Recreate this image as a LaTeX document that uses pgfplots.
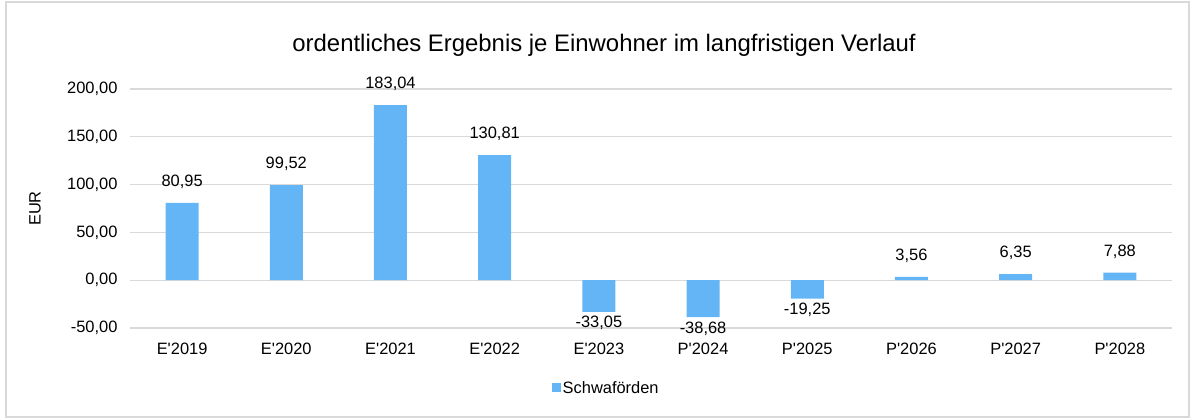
\documentclass[border=0pt]{standalone}
\usepackage{pgfplots}
\pgfplotsset{compat=1.18}
\usepackage{fontspec}
\setmainfont{Liberation Sans}
\definecolor{barblue}{RGB}{99,181,245}
\definecolor{gridgray}{RGB}{217,217,217}
\newcommand{\q}{\textquotesingle}
\begin{document}
\begin{tikzpicture}[x=1bp,y=1bp]
% full image frame: axis SW corner at image (130,328); image 1195x419
\path[use as bounding box] (-130,-91) rectangle (1065,328);
\draw[gridgray,line width=1.2bp] (-124,-89) rectangle (1059,326);
\begin{axis}[
  at={(0,0)}, anchor=south west,
  scale only axis, width=1042bp, height=239bp,
  xmin=-0.5, xmax=9.5, ymin=-50, ymax=200,
  ytick={-50,0,50,100,150,200},
  xtick={0,...,9},
  xticklabels={E\q2019,E\q2020,E\q2021,E\q2022,E\q2023,P\q2024,P\q2025,P\q2026,P\q2027,P\q2028},
  axis line style={draw=none},
  major tick length=0pt,
  ymajorgrids, grid style={gridgray,line width=1.2bp},
  /pgf/number format/.cd, fixed, fixed zerofill, precision=2, use comma, 1000 sep={}, assume math mode=true,
  /pgfplots/.cd,
  ticklabel style={font=\fontsize{16.5}{18}\selectfont},
  yticklabel style={xshift=-9bp},
  xticklabel style={yshift=-11bp},
  ylabel={EUR}, ylabel style={font=\fontsize{16.5}{18}\selectfont, at={(-0.0912,0.5)}, anchor=center},
  ybar, bar width=33bp, bar shift=0pt,
  legend style={at={(0.457,-0.251)}, anchor=center, draw=none, font=\fontsize{16.5}{18}\selectfont},
  nodes near coords, point meta=explicit symbolic,
  every node near coord/.append style={font=\fontsize{16.5}{18}\selectfont},
  clip=false,
]
\addplot[fill=barblue, draw=none, bar shift=0pt, nodes near coords style={anchor=south, yshift=11bp},
  legend image code/.code={\fill[barblue] (0bp,-4.5bp) rectangle (9bp,4.5bp);}] coordinates {
  (0,80.95) [80,95]
  (1,99.52) [99,52]
  (2,183.04) [183,04]
  (3,130.81) [130,81]
  (7,3.56) [3,56]
  (8,6.35) [6,35]
  (9,7.88) [7,88]
};
\addlegendentry{Schwaförden}
\addplot[fill=barblue, draw=none, bar shift=0pt, forget plot, nodes near coords style={anchor=north, yshift=-1bp}] coordinates {
  (4,-33.05) [-33,05]
  (5,-38.68) [-38,68]
  (6,-19.25) [-19,25]
};
\node[font=\fontsize{24}{28}\selectfont] at (axis description cs:0.455,1.184) {ordentliches Ergebnis je Einwohner im langfristigen Verlauf};
\end{axis}
\end{tikzpicture}
\end{document}
